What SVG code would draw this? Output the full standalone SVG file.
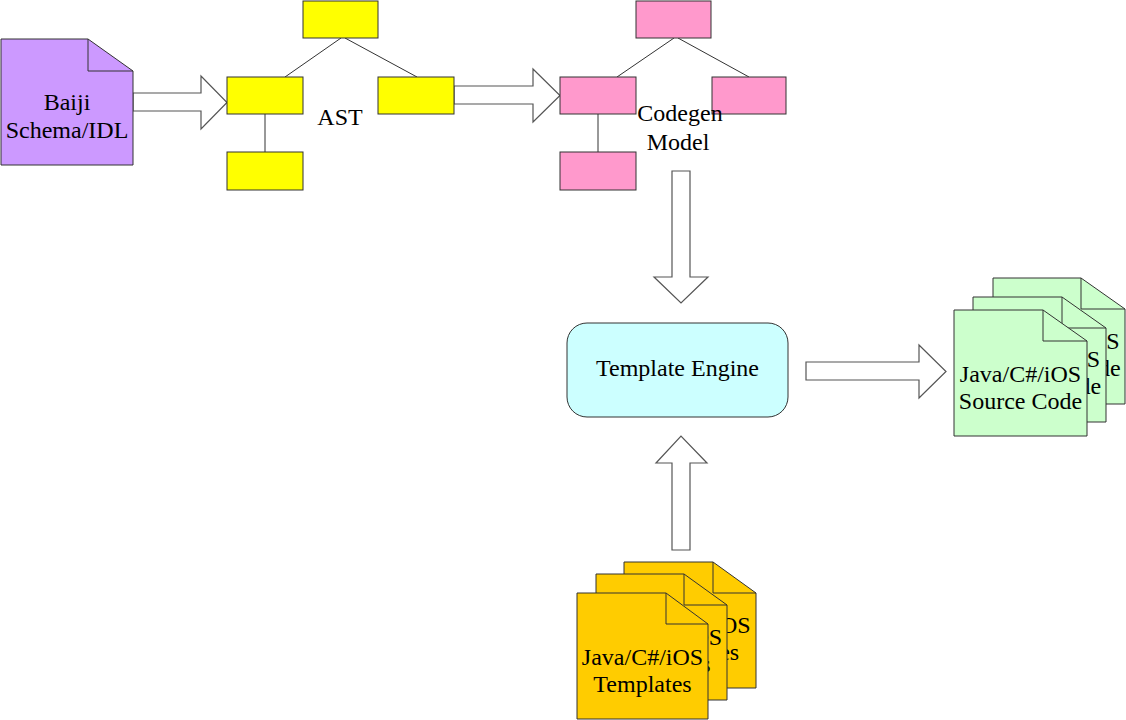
<svg xmlns="http://www.w3.org/2000/svg" width="1126" height="720" viewBox="0 0 1126 720">
<style>
  .t { font-family: "Liberation Serif", "Times New Roman", serif; font-size: 24px; fill: #000; text-anchor: middle; }
  .box { stroke: #333; stroke-width: 1; }
  .y { fill: #FFFF00; }
  .p { fill: #FF99CC; }
  .doc { stroke: #333; stroke-width: 1; stroke-linejoin: miter; }
  .fold { fill: none; stroke: #333; stroke-width: 1; }
  .blk { fill: #fff; stroke: #555; stroke-width: 1.2; stroke-linejoin: miter; }
  .ln { stroke: #333; stroke-width: 1; fill: none; }
</style>
<rect width="1126" height="720" fill="#fff"/>

<g id="connectors">
  <path class="ln" d="M341,38 L285,77 M345,38 L417,77 M265,114 V152"/>
  <path class="ln" d="M674,38 L617,77 M678,38 L749,77 M598,114 V152"/>
  <path class="blk" d="M133,93 H201 V76 L227,102.5 L201,129 V111 H133 Z"/>
  <path class="blk" d="M454,86 H533 V69 L560,95.5 L533,122 V104 H454 Z"/>
  <path class="blk" d="M672,171 H690 V277 H708 L681,303 L654,277 H672 Z"/>
  <path class="blk" d="M806,362 H919 V345 L946,371.5 L919,398 V380 H806 Z"/>
  <path class="blk" d="M672,550 V463 H656 L681,436 L707,463 H690 V550 Z"/>
</g>

<g id="baiji">
  <path class="doc" fill="#CC99FF" d="M1,39 H88 L133,71 V165 H1 Z"/>
  <path class="fold" d="M88,39 V71 H133"/>
  <text class="t" x="67" y="110">Baiji</text>
  <text class="t" x="67" y="138">Schema/IDL</text>
</g>

<g id="ast">
  <rect id="ast-root" class="box y" x="303" y="1" width="75" height="37"/>
  <rect id="ast-left" class="box y" x="227" y="77" width="76" height="37"/>
  <rect id="ast-right" class="box y" x="378" y="77" width="76" height="37"/>
  <rect id="ast-bottom" class="box y" x="227" y="152" width="76" height="38"/>
  <text class="t" x="340" y="125">AST</text>
</g>

<g id="codegen-model">
  <rect id="cm-root" class="box p" x="636" y="1" width="75" height="37"/>
  <rect id="cm-left" class="box p" x="560" y="77" width="76" height="37"/>
  <rect id="cm-right" class="box p" x="712" y="77" width="74" height="37"/>
  <rect id="cm-bottom" class="box p" x="560" y="152" width="76" height="38"/>
  <text class="t" x="680" y="121">Codegen</text>
  <text class="t" x="678" y="150">Model</text>
</g>

<g id="template-engine">
  <rect x="567" y="323" width="221" height="94" rx="20" ry="20" fill="#CCFFFF" stroke="#333" stroke-width="1"/>
  <text class="t" x="677.5" y="376">Template Engine</text>
</g>

<g id="source-code">
  <g id="source-code-3">
    <path class="doc" fill="#CCFFCC" d="M993,278 H1081 L1125,309 V404 H993 Z"/>
    <path class="fold" d="M1081,278 V309 H1125"/>
    <text class="t" x="1059" y="349">Java/C#/iOS</text>
    <text class="t" x="1059" y="376">Source Code</text>
  </g>
  <g id="source-code-2">
    <path class="doc" fill="#CCFFCC" d="M973,297 H1062 L1106,328 V422 H973 Z"/>
    <path class="fold" d="M1062,297 V328 H1106"/>
    <text class="t" x="1039.5" y="367">Java/C#/iOS</text>
    <text class="t" x="1039.5" y="394">Source Code</text>
  </g>
  <g id="source-code-1">
    <path class="doc" fill="#CCFFCC" d="M954,310 H1043 L1087,341 V436 H954 Z"/>
    <path class="fold" d="M1043,310 V341 H1087"/>
    <text class="t" x="1020.5" y="382">Java/C#/iOS</text>
    <text class="t" x="1020.5" y="409">Source Code</text>
  </g>
</g>

<g id="templates">
  <g id="templates-3">
    <path class="doc" fill="#FFCC00" d="M624,562 H713 L756,593 V688 H624 Z"/>
    <path class="fold" d="M713,562 V593 H756"/>
    <text class="t" x="690" y="633">Java/C#/iOS</text>
    <text class="t" x="690" y="660">Templates</text>
  </g>
  <g id="templates-2">
    <path class="doc" fill="#FFCC00" d="M596,574 H684 L727,605 V700 H596 Z"/>
    <path class="fold" d="M684,574 V605 H727"/>
    <text class="t" x="661.5" y="645">Java/C#/iOS</text>
    <text class="t" x="661.5" y="672">Templates</text>
  </g>
  <g id="templates-1">
    <path class="doc" fill="#FFCC00" d="M577,593 H666 L708,624 V719 H577 Z"/>
    <path class="fold" d="M666,593 V624 H708"/>
    <text class="t" x="642.5" y="665">Java/C#/iOS</text>
    <text class="t" x="642.5" y="692">Templates</text>
  </g>
</g>
</svg>
